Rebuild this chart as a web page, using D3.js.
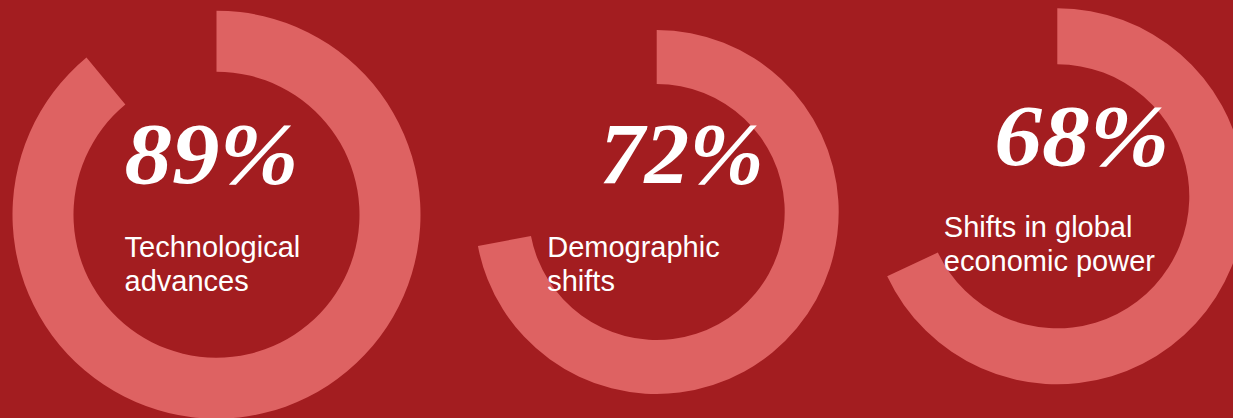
<!DOCTYPE html>
<html>
<head>
<meta charset="utf-8">
<script src="https://cdn.jsdelivr.net/npm/d3@7"></script>
<style>
  html, body { margin: 0; padding: 0; background: #a31d20; overflow: hidden; }
  svg { display: block; }
</style>
</head>
<body>
<svg id="chart" width="1233" height="418"></svg>
<script>
// Survey results: share of respondents citing each trend
const categories = ["Technological advances", "Demographic shifts", "Shifts in global economic power"];
const values = [89, 72, 68];
const labelLines = [
  ["Technological", "advances"],
  ["Demographic", "shifts"],
  ["Shifts in global", "economic power"]
];

// Ring geometry and text placement for each donut
const layout = [
  { cx: 216.5, cy: 214.7, outer: 204, inner: 143, numDx: -92, numDy: -32, numW: 174, labDx: -92, labDy: 42 },
  { cx: 656.7, cy: 212.0, outer: 182, inner: 128, numDx: -57, numDy: -29, numW: 164, labDx: -109.5, labDy: 44.7 },
  { cx: 1057.3, cy: 196.3, outer: 188, inner: 132, numDx: -63, numDy: -31, numW: 175, labDx: -113.5, labDy: 41 }
];

const BG = "#a31d20";
const RING = "#de6262";

const svg = d3.select("#chart");
svg.append("rect").attr("width", 1233).attr("height", 418).attr("fill", BG);

const angle = d3.scaleLinear().domain([0, 100]).range([0, 2 * Math.PI]);

const groups = svg.selectAll("g.donut")
  .data(values.map((v, i) => ({ value: v, category: categories[i], lines: labelLines[i], L: layout[i] })))
  .join("g")
  .attr("class", "donut")
  .attr("transform", d => `translate(${d.L.cx},${d.L.cy})`);

groups.append("path")
  .attr("fill", RING)
  .attr("d", d => d3.arc()
    .innerRadius(d.L.inner)
    .outerRadius(d.L.outer)
    .startAngle(0)
    .endAngle(angle(d.value))());

groups.append("text")
  .attr("x", d => d.L.numDx)
  .attr("y", d => d.L.numDy)
  .attr("fill", "#ffffff")
  .attr("font-family", "'Liberation Serif', 'DejaVu Serif', serif")
  .attr("font-weight", "bold")
  .attr("font-style", "italic")
  .attr("font-size", 86)
  .attr("textLength", d => d.L.numW)
  .attr("lengthAdjust", "spacingAndGlyphs")
  .text(d => d.value + "%");

groups.append("text")
  .attr("fill", "#ffffff")
  .attr("font-family", "'Liberation Sans', Arial, sans-serif")
  .attr("font-size", 29)
  .selectAll("tspan")
  .data(d => d.lines.map((t, j) => ({ t, j, L: d.L })))
  .join("tspan")
  .attr("x", d => d.L.labDx)
  .attr("y", d => d.L.labDy + d.j * 34.2)
  .text(d => d.t);
</script>
</body>
</html>
